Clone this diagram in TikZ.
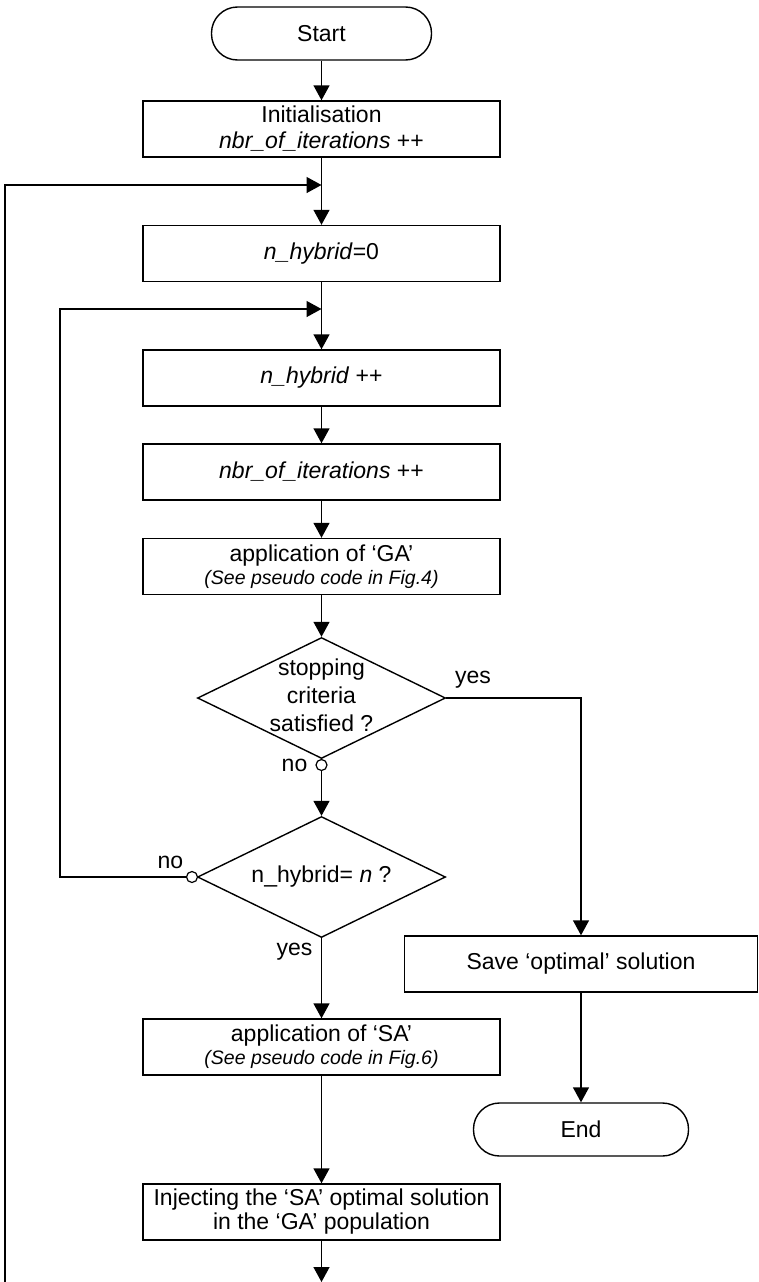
\documentclass[tikz,border=0pt]{standalone}
\usepackage{fontspec}
\setmainfont{Liberation Sans}
\usetikzlibrary{arrows.meta, positioning, shapes.geometric, calc}

\newcommand{\subnote}[1]{{\fontsize{19.5}{23}\selectfont\itshape #1}}
\newcommand{\dtext}[1]{\smash{\raisebox{-0.25em}{\begin{tabular}{@{}c@{}}#1\end{tabular}}}}

\tikzset{
	flowfont/.style={font=\fontsize{23}{28}\selectfont},
	box/.style={flowfont, draw, line width=1.4pt, rectangle, minimum width=357pt, minimum height=56pt, inner sep=2pt, align=center},
	term/.style={flowfont, draw, line width=1.4pt, rectangle, rounded corners=26pt, minimum width=220pt, minimum height=53pt},
	decision/.style={flowfont, draw, line width=1.4pt, diamond, aspect=2, minimum width=248pt, minimum height=121pt, inner sep=0pt},
	joint/.style={draw, circle, fill=white, line width=1.2pt, minimum size=11pt, inner sep=0pt},
	arr/.style={-{Triangle[width=16pt,length=15pt]}, line width=1.4pt},
	lbl/.style={flowfont, inner sep=0pt}
}

\begin{document}
\begin{tikzpicture}[x=1pt, y=-1pt]
	\useasboundingbox (0,0) rectangle (758,1282);

	\node[term] (start) at (321.5,33.5) {Start};
	\node[box] (init) at (321.5,129) {Initialisation\\[-2pt] \textit{nbr\_of\_iterations} ++};
	\node[box] (hyb0) at (321.5,253.5) {\textit{n\_hybrid}=0};
	\node[box] (hybinc) at (321.5,378) {\textit{n\_hybrid} ++};
	\node[box] (iter) at (321.5,472) {\textit{nbr\_of\_iterations} ++};
	\node[box] (ga) at (321.5,566.5) {application of `GA'\\[-5pt] \subnote{(See pseudo code in Fig.4)}};
	\node[decision] (stop) at (321.5,698) {\dtext{stopping\\ criteria\\ satisfied ?}};
	\node[joint] (cno1) at (321.5,765) {};
	\node[decision] (nhyb) at (321.5,877) {\dtext{n\_hybrid= \textit{n} ?}};
	\node[joint] (cno2) at (192,877) {};
	\node[box] (sa) at (321.5,1047) {application of `SA'\\[-5pt] \subnote{(See pseudo code in Fig.6)}};
	\node[box] (inject) at (321.5,1212) {Injecting the `SA' optimal solution\\[-4pt] in the `GA' population};
	\node[box, minimum width=353pt] (save) at (581,964) {Save `optimal' solution};
	\node[term, minimum width=215pt] (endn) at (581,1129.5) {End};

	% labels of the branches
	\node[lbl] (no1) at (294.5,765) {no};
	\node[lbl] (no2) at (170.5,862) {no};
	\node[lbl] (yes1) at (473,680) {yes};
	\node[lbl] (yes2) at (294.5,952) {yes};

	% loop and end points
	\coordinate (l1b) at (5,1282);
	\coordinate (l1) at (5,185);
	\coordinate (j1) at (321.5,185);
	\coordinate (l2) at (60,309);
	\coordinate (j2) at (321.5,309);
	\coordinate (out) at (321.5,1282);

	\draw[arr] (start) -- (init);
	\draw[arr] (init) -- (hyb0);
	\draw[arr] (hyb0) -- (hybinc);
	\draw[arr] (hybinc) -- (iter);
	\draw[arr] (iter) -- (ga);
	\draw[arr] (ga) -- (stop);
	\draw[line width=1.4pt] (stop.south) -- (cno1.north);
	\draw[arr] (cno1.south) -- (nhyb.north);
	\draw[arr] (stop.east) -| (save.north);
	\draw[arr] (save) -- (endn);
	\draw[arr] (nhyb.south) -- (sa);
	\draw[arr] (sa) -- (inject);
	\draw[arr] (inject) -- (out);
	\draw[arr] (cno2.west) -| (l2) -- (j2);
	\draw[arr] (l1b) -- (l1) -- (j1);
\end{tikzpicture}
\end{document}
